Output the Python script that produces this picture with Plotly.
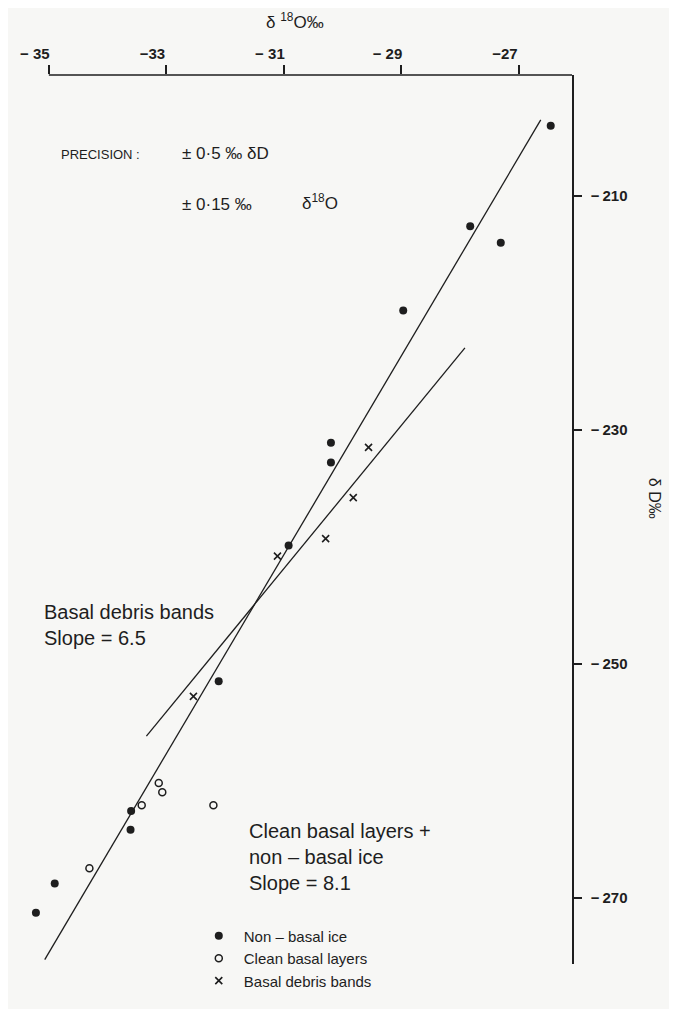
import plotly.graph_objects as go

# ---- data ----
nonbasal_d18o = [-26.46, -27.83, -27.31, -28.97, -30.20, -30.20, -30.92, -32.11, -33.60, -33.61, -34.90, -35.22]
nonbasal_dD = [-204.0, -212.6, -214.0, -219.8, -231.1, -232.8, -239.9, -251.5, -262.6, -264.2, -268.8, -271.3]

clean_d18o = [-33.13, -33.07, -33.42, -32.20, -34.31]
clean_dD = [-260.2, -261.0, -262.1, -262.1, -267.5]

debris_d18o = [-29.56, -29.82, -30.29, -31.11, -32.54]
debris_dD = [-231.5, -235.8, -239.3, -240.8, -252.8]

main_line_d18o = [-35.07, -26.63]
main_line_dD = [-275.3, -203.5]
debris_line_d18o = [-33.34, -27.92]
debris_line_dD = [-256.2, -223.0]

x_tickvals = [-35, -33, -31, -29, -27]
x_ticktext = ["\u2212 35", "\u221233", "\u2212 31", "\u2212 29", "\u221227"]
y_tickvals = [-210, -230, -250, -270]
y_ticktext = ["\u2212\u2009210", "\u2212\u2009230", "\u2212\u2009250", "\u2212\u2009270"]

# ---- layout (screen pixel design; page body has an 8px margin) ----
PAGE = 8
W, H = 677 - 2 * PAGE, 1017 - 2 * PAGE
L, R, T, B = 25, 572, 75, 972          # plot area in screen px
X_AXIS_START = 45                        # where the drawn top axis line begins (the -35 tick)
INK = "#1e1e1e"
BG = "#f7f7f5"
FONT = "Liberation Sans"


def px(x):
    return (x - L) / (R - L)


def py(y):
    return (B - y) / (B - T)


fig = go.Figure()

fig.add_trace(go.Scatter(x=main_line_d18o, y=main_line_dD, mode="lines",
                         line=dict(color=INK, width=1.3), showlegend=False, hoverinfo="skip"))
fig.add_trace(go.Scatter(x=debris_line_d18o, y=debris_line_dD, mode="lines",
                         line=dict(color=INK, width=1.3), showlegend=False, hoverinfo="skip"))

fig.add_trace(go.Scatter(x=nonbasal_d18o, y=nonbasal_dD, mode="markers", name="Non \u2013 basal ice",
                         marker=dict(symbol="circle", size=8, color=INK), cliponaxis=False))
fig.add_trace(go.Scatter(x=clean_d18o, y=clean_dD, mode="markers", name="Clean basal layers",
                         marker=dict(symbol="circle-open", size=7, color=INK, line=dict(width=1.5)),
                         cliponaxis=False))
fig.add_trace(go.Scatter(x=debris_d18o, y=debris_dD, mode="markers", name="Basal debris bands",
                         marker=dict(symbol="x-thin-open", size=7, color=INK, line=dict(width=1.6)),
                         cliponaxis=False))

ann = []
ann.append(dict(x=px(293), y=py(21), text="\u03b4 <sup>18</sup>O\u2030", xanchor="center", font=dict(size=17)))
ann.append(dict(x=px(655), y=py(502), text="\u03b4 D\u2030", textangle=90, xanchor="center", font=dict(size=16)))
ann.append(dict(x=px(55), y=py(155), text="PRECISION :", xanchor="left", font=dict(size=13)))
ann.append(dict(x=px(177), y=py(154), text="\u00b1 0\u00b75 \u2030 \u03b4D", xanchor="left", font=dict(size=17)))
ann.append(dict(x=px(177), y=py(206), text="\u00b1 0\u00b715 \u2030", xanchor="left", font=dict(size=17)))
ann.append(dict(x=px(298), y=py(203), text="\u03b4<sup>18</sup>O", xanchor="left", font=dict(size=17)))
ann.append(dict(x=px(38), y=py(630), text="Basal debris bands<br>Slope = 6.5", xanchor="left",
                align="left", font=dict(size=20)))
ann.append(dict(x=px(245), y=py(864), text="Clean basal layers +<br>non \u2013 basal ice<br>Slope = 8.1",
                xanchor="left", align="left", font=dict(size=20)))
for a in ann:
    a.update(xref="paper", yref="paper", showarrow=False, yanchor="middle")
    a["font"].update(family=FONT, color=INK)

fig.update_layout(
    width=W, height=H,
    margin=dict(l=L - PAGE, r=W - (R - PAGE), t=T - PAGE, b=H - (B - PAGE)),
    paper_bgcolor=BG, plot_bgcolor=BG,
    font=dict(family=FONT, color=INK),
    annotations=ann,
    shapes=[dict(type="line", xref="paper", yref="paper", x0=px(X_AXIS_START), x1=1, y0=1, y1=1,
                 line=dict(color=INK, width=1.5), layer="above")],
    showlegend=True,
    legend=dict(x=px(191), y=py(927), xanchor="left", yanchor="top",
                bgcolor="rgba(0,0,0,0)", font=dict(size=15, family=FONT, color=INK),
                tracegroupgap=0, itemwidth=40),
    xaxis=dict(side="top", range=[-35 - (X_AXIS_START - L) / 59.2, -35 + (R - X_AXIS_START) / 59.2],
               showgrid=False, zeroline=False, showline=False,
               ticks="outside", ticklen=9, tickwidth=1.5, tickcolor=INK,
               tickvals=x_tickvals, ticktext=x_ticktext, ticklabelshift=-14,
               tickfont=dict(size=15, family=FONT, color=INK, weight="bold")),
    yaxis=dict(side="right", range=[-275.68, -199.66], showgrid=False, zeroline=False,
               showline=True, linecolor=INK, linewidth=1.5,
               ticks="outside", ticklen=8, tickwidth=1.5, tickcolor=INK,
               tickvals=y_tickvals, ticktext=y_ticktext, ticklabelstandoff=6,
               tickfont=dict(size=15, family=FONT, color=INK, weight="bold")),
)

fig.write_html("out.html")
